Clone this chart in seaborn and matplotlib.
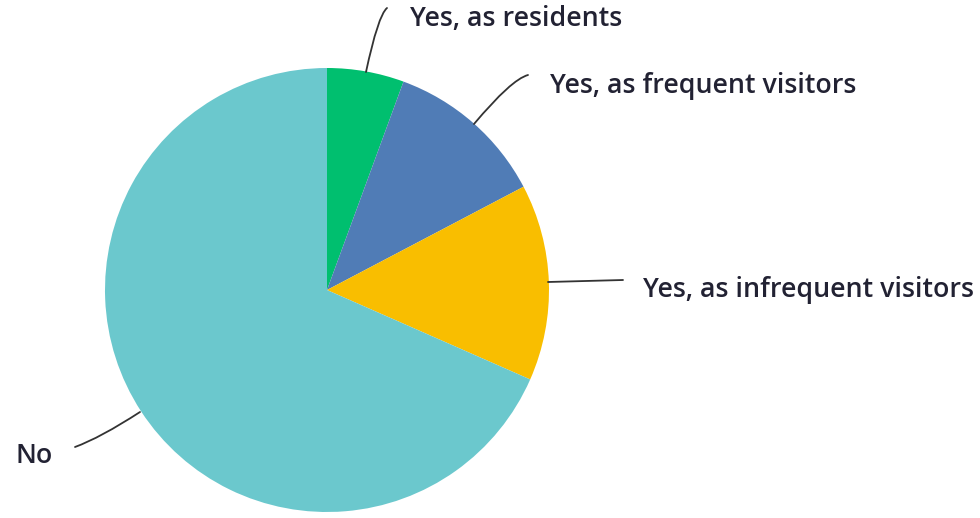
import matplotlib
matplotlib.use("Agg")
import matplotlib.pyplot as plt
import seaborn as sns

# Survey answers and their shares (percent)
categories = ["Yes, as residents", "Yes, as frequent visitors",
              "Yes, as infrequent visitors", "No"]
shares = [5.6, 11.7, 14.3, 68.4]
colors = ["#00BF6F", "#507CB6", "#F9BE00", "#6BC8CD"]

sns.set_theme(style="white")
plt.rcParams["font.family"] = ["Open Sans", "DejaVu Sans"]

W, H = 980, 518
fig = plt.figure(figsize=(W / 100, H / 100), dpi=100)
ax = fig.add_axes([0, 0, 1, 1])

cx, cy, r = 327, H - 290, 222
ax.pie(shares, colors=colors, startangle=90, counterclock=False,
       center=(cx, cy), radius=r, frame=True,
       wedgeprops=dict(linewidth=0))
ax.set_xlim(0, W)
ax.set_ylim(0, H)
ax.set_aspect("equal")
ax.axis("off")

# leader lines: start on the pie, end near the label, connection style;
# then the label's baseline anchor and alignment
leaders = [
    ((366, H - 72), (387, H - 8), "angle3,angleA=40,angleB=78",
     (410, H - 26), "left"),
    ((474, H - 124), (528, H - 75), "angle3,angleA=15,angleB=50",
     (550, H - 93), "left"),
    ((548, H - 282), (623, H - 280), "arc3,rad=0",
     (643, H - 297), "left"),
    ((140, H - 412), (75, H - 447), "angle3,angleA=20,angleB=33",
     (53, H - 463), "right"),
]
for (start, end, style, tpos, ha), label in zip(leaders, categories):
    ax.annotate("", xy=start, xytext=end,
                arrowprops=dict(arrowstyle="-", color="#333333", lw=1.3,
                                connectionstyle=style,
                                shrinkA=0, shrinkB=0))
    ax.text(tpos[0], tpos[1], label, ha=ha, va="baseline", fontsize=19.3,
            fontweight="semibold", color="#222233")

fig.savefig("out.png", dpi=100)
